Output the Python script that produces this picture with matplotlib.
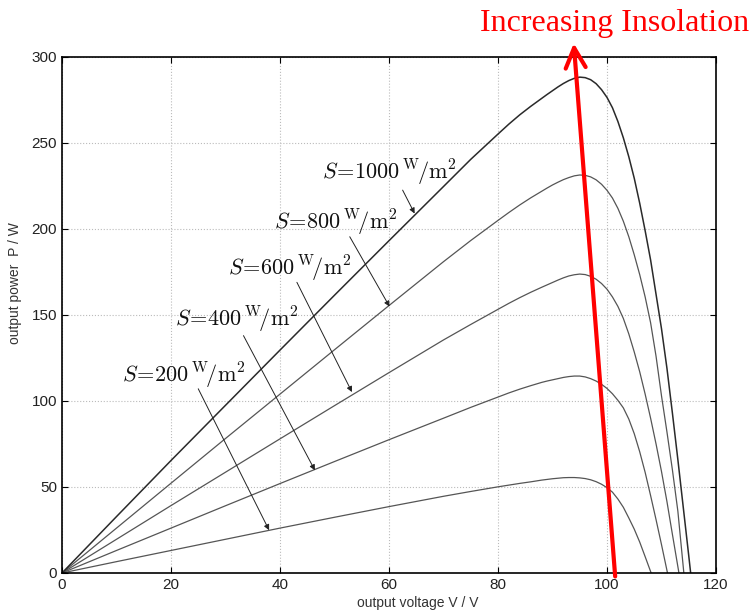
import matplotlib
matplotlib.use('Agg')
import matplotlib.pyplot as plt

plt.rcParams['mathtext.fontset'] = 'cm'
plt.rcParams['font.family'] = ['Liberation Sans', 'DejaVu Sans']

# P-V characteristics of the PV array at five insolation levels
irradiance = [200, 400, 600, 800, 1000]

v_200 = [0, 10, 20, 30, 40, 50, 60, 70, 75, 80, 82, 84, 86, 88, 89, 90, 91, 92, 93, 94, 95, 96, 97, 98, 99,
         100, 101, 102, 103, 104, 105, 106, 107, 108.1]
p_200 = [0, 6.6, 13.1, 19.6, 26.1, 32.4, 38.6, 44.6, 47.4, 50.1, 51.1, 52.1, 53.0, 54.0, 54.4, 54.8, 55.1, 55.4,
         55.5, 55.5, 55.3, 54.9, 54.2, 53.1, 51.6, 49.6, 47.0, 43.0, 38.2, 32.0, 25.5, 18.0, 9.5, 0]

v_400 = [0, 10, 20, 30, 40, 50, 60, 70, 75, 80, 82, 84, 86, 88, 89, 90, 91, 92, 93, 94, 95, 96, 97, 98, 99,
         100, 101, 102, 103, 104, 105, 106, 107, 108, 109, 110, 111.1]
p_400 = [0, 13.1, 26.1, 39.1, 52.0, 64.8, 77.5, 90.0, 96.3, 102.3, 104.7, 106.9, 108.9, 110.8, 111.6, 112.3, 113.0,
         113.7, 114.2, 114.5, 114.5, 114.0, 113.0, 111.6, 109.7, 107.3, 104.2, 100.4, 96.0, 89.5, 81.0, 70.5,
         58.5, 45.0, 31.0, 16.5, 0]

v_600 = [0, 10, 20, 30, 40, 50, 60, 70, 75, 80, 82, 84, 86, 88, 89, 90, 91, 92, 93, 94, 95, 96, 97, 98, 99,
         100, 101, 102, 103, 104, 105, 106, 107, 108, 109, 110, 111, 112, 113.2]
p_600 = [0, 19.6, 39.2, 58.6, 78.0, 97.3, 116.5, 135.5, 144.5, 153.3, 156.8, 160.1, 163.2, 166.1, 167.5, 168.9,
         170.3, 171.6, 172.7, 173.4, 173.8, 173.5, 172.5, 170.8, 168.3, 165.0, 160.5, 155.0, 148.0, 139.0, 128.5,
         117.0, 104.0, 90.0, 75.0, 59.0, 41.5, 22.5, 0]

v_800 = [0, 10, 20, 30, 40, 50, 60, 70, 75, 80, 82, 84, 86, 88, 89, 90, 91, 92, 93, 94, 95, 96, 97, 98, 99,
         100, 101, 102, 103, 104, 105, 106, 107, 108, 109, 110, 111, 112, 113, 114.1]
p_800 = [0, 26.1, 52.2, 78.2, 104.0, 129.8, 155.5, 181.0, 193.3, 205.0, 209.6, 214.0, 218.1, 221.9, 223.8, 225.6,
         227.2, 228.7, 229.9, 230.9, 231.4, 231.2, 230.3, 228.6, 226.0, 222.5, 218.0, 212.0, 204.5, 195.5, 185.0,
         173.5, 160.5, 145.5, 126.0, 103.0, 82.0, 60.0, 36.0, 0]

v_1000 = [0, 10, 20, 30, 40, 50, 60, 70, 75, 80, 82, 84, 86, 88, 89, 90, 91, 92, 93, 94, 95, 96, 97, 98, 99,
          100, 101, 102, 103, 104, 105, 106, 107, 108, 109, 110, 111, 112, 113, 114, 115, 115.35]
p_1000 = [0, 32.8, 65.4, 97.5, 129.6, 161.5, 193.2, 224.7, 240.5, 255.2, 261.0, 266.4, 271.3, 275.9, 278.2, 280.4,
          282.6, 284.6, 286.3, 287.6, 288.3, 288.0, 286.8, 284.5, 281.0, 276.5, 270.5, 262.5, 253.0, 242.0, 229.5,
          215.0, 199.0, 182.0, 162.0, 142.0, 119.0, 93.0, 66.0, 38.0, 10.0, 0]

curves = [(v_200, p_200), (v_400, p_400), (v_600, p_600), (v_800, p_800), (v_1000, p_1000)]

# label centre and arrow (start, end) for each curve, in data units
label_pos = [(22.4, 114.8), (32.1, 147.3), (41.7, 176.9), (50.3, 203.6), (60.0, 232.6)]
arrow_from = [(25.0, 107.1), (33.3, 138.0), (43.1, 169.0), (52.8, 195.5), (62.5, 222.6)]
arrow_to = [(38.0, 24.9), (46.4, 59.7), (53.2, 105.2), (60.1, 154.9), (64.7, 209.0)]

fig = plt.figure(figsize=(7.52, 6.13), dpi=100)
ax = fig.add_axes([62/752, 1-573/613, 654/752, 516/613])

for i, (v, p) in enumerate(curves):
    if irradiance[i] == 1000:
        ax.plot(v, p, color='#2a2a2a', lw=1.1)
    else:
        ax.plot(v, p, color='#555555', lw=0.9)

for i, s in enumerate(irradiance):
    lab = r'$S\!=\!%d\,{}^{\mathrm{W}}\!/\mathrm{m}^{2}$' % s
    ax.text(label_pos[i][0], label_pos[i][1], lab, fontsize=16,
            ha='center', va='center', color='#111111')
    ax.annotate('', xy=arrow_to[i], xytext=arrow_from[i],
                arrowprops=dict(arrowstyle='-|>', lw=0.7, color='#222222',
                                mutation_scale=8, shrinkA=0, shrinkB=0))

ax.set_xlim(0, 120)
ax.set_ylim(0, 300)
ax.set_xticks(range(0, 121, 20))
ax.set_yticks(range(0, 301, 50))
ax.grid(True, linestyle=':', color='#bbbbbb', lw=0.8)
ax.tick_params(direction='in', top=True, right=True, length=4.5,
               labelsize=11, labelcolor='#222222')
for sp in ax.spines.values():
    sp.set_linewidth(1.2)

ax.set_xlabel('output voltage V / V', fontsize=10, color='#333333')
ax.set_ylabel('output power  P / W', fontsize=10, color='#333333')
ax.xaxis.set_label_coords(0.544, -0.045)
ax.yaxis.set_label_coords(-0.061, 0.562)

# red arrow across the maximum power points
ax.annotate('', xy=(93.9, 308), xytext=(101.5, -2), annotation_clip=False,
            arrowprops=dict(arrowstyle='->, head_length=0.72, head_width=0.36',
                            lw=3, color='red', mutation_scale=20,
                            shrinkA=0, shrinkB=0))
fig.text(615/752, 1-31/613, 'Increasing Insolation', color='red',
         fontsize=23, family='Liberation Serif', ha='center', va='baseline')

fig.savefig('out.png', dpi=100)
